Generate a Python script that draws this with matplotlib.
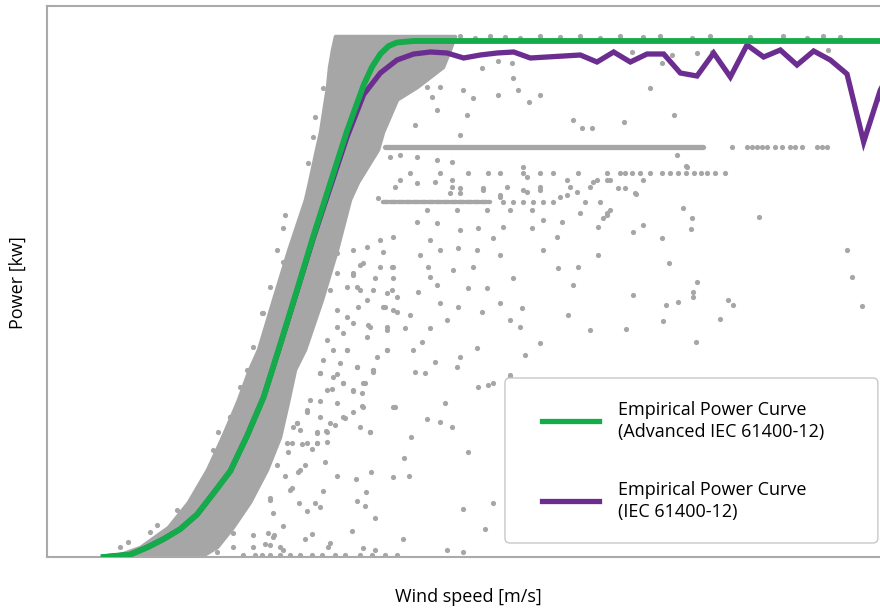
import matplotlib.pyplot as plt
import numpy as np
from matplotlib.patches import FancyBboxPatch
from matplotlib.lines import Line2D

plt.rcParams['font.family'] = ['Open Sans', 'DejaVu Sans']

# empirical power curves, 0.5 m/s bins (wind speed m/s, power kW)
green_ws = [1.7, 2.0, 2.5, 3.0, 3.5, 4.0, 4.5, 5.0, 5.5, 6.0, 6.5, 7.0, 7.5, 8.0, 8.5,
            9.0, 9.5, 9.75, 10.0, 10.25, 10.5, 11.0, 25.5]
green_kw = [0, 4, 10, 38, 72, 112, 170, 256, 344, 484, 640, 852, 1068, 1288, 1496,
            1704, 1888, 1960, 2012, 2044, 2058, 2064, 2064]

purple_ws = [1.7, 2.0, 2.5, 3.0, 3.5, 4.0, 4.5, 5.0, 5.5, 6.0, 6.5, 7.0, 7.5, 8.0, 8.5,
             9.0, 9.5, 10.0, 10.5, 11.0, 11.5, 12.0, 12.5, 13.0, 13.5, 14.0, 14.5, 15.0,
             15.5, 16.0, 16.5, 17.0, 17.5, 18.0, 18.5, 19.0, 19.5, 20.0, 20.5, 21.0, 21.5,
             22.0, 22.5, 23.0, 23.5, 24.0, 24.5, 25.0, 25.5]
purple_kw = [0, 4, 10, 38, 72, 112, 170, 256, 344, 484, 640, 850, 1064, 1280, 1480,
             1680, 1850, 1936, 1988, 2012, 2020, 2016, 1996, 2008, 2016, 2020, 1996, 2000,
             2004, 2008, 1980, 2020, 1980, 2012, 2012, 1936, 1924, 2016, 1920, 2048, 2000,
             2028, 1968, 2024, 1988, 1932, 1660, 1868, 1990]

# dense cloud of 10-min samples: wind speed range at each power level
band_kw = [0, 40, 120, 220, 350, 480, 620, 750, 830, 1030, 1230, 1430, 1500, 1630,
           1700, 1830, 1880, 1960, 2030, 2084]
band_ws_low = [1.95, 2.79, 3.63, 4.23, 4.80, 5.25, 5.70, 6.06, 6.33, 6.78, 7.24, 7.74,
               7.86, 8.07, 8.19, 8.34, 8.40, 8.46, 8.55, 8.64]
band_ws_high = [4.59, 5.10, 5.58, 6.09, 6.60, 6.99, 7.23, 7.44, 7.74, 8.25, 8.70, 9.09,
                9.33, 9.93, 10.08, 10.50, 11.10, 11.88, 12.09, 12.24]

# curtailed operation clusters (power kW, wind speed from/to)
curtail_main = (1640, 10.14, 19.68)
curtail_second = (1420, 10.08, 13.29)

curtail_main_dots = [20.55, 21.0, 21.15, 21.3, 21.45, 21.6, 21.84, 22.05, 22.29,
                     22.44, 22.65, 23.1, 23.25, 23.4]
curtail_second_dots = [13.68, 13.98, 14.28, 14.58, 14.88, 15.18, 16.14, 16.59]
row_1536_dots = [10.89, 11.79, 12.63, 13.23, 13.59, 14.28, 14.79, 15.18, 15.93, 16.8,
                 17.19, 17.34, 17.55, 17.79, 18.09, 18.45, 18.69, 18.93, 19.17, 19.41,
                 19.62, 19.8, 20.04, 20.34]
rated_dots_ws = [12.39, 12.84, 13.29, 13.74, 14.19, 14.79, 15.39, 15.99, 16.59, 17.19,
                 17.88, 18.39, 19.35, 19.89, 21.09, 22.08, 22.8, 23.28, 23.79]
rated_dots_kw = [2084, 2076, 2084, 2080, 2076, 2084, 2080, 2084, 2076, 2084,
                 2080, 2084, 2076, 2084, 2080, 2084, 2076, 2084, 2080]
zero_dots_ws = [5.88, 6.24, 6.45, 6.69, 6.99, 7.29, 7.59, 7.95, 8.25, 8.64, 8.94,
                9.39, 9.75, 10.14, 10.5]

upper_points = [
    (13.05, 1956), (13.53, 1984), (13.95, 1976), (14.79, 1848), (14.46, 1820),
    (13.98, 1916), (14.13, 1868), (12.48, 1868), (12.78, 1836), (13.53, 1848),
    (12.60, 1768), (12.39, 1688), (15.78, 1748), (16.05, 1716), (16.35, 1716),
    (11.55, 1840), (11.70, 1788), (11.04, 1728), (11.79, 1880), (11.40, 1880),
    (8.28, 1876), (8.04, 1760), (7.98, 1680), (7.83, 1576), (8.55, 1980),
    (17.55, 2020), (18.45, 1976), (18.75, 2008), (19.50, 2016), (19.95, 2020),
    (23.43, 2028), (18.09, 1876), (18.81, 1768), (17.31, 1740), (24.96, 1832),
    (18.90, 1608), (19.17, 1564), (17.64, 1456), (17.88, 1508), (17.34, 1476),
    (16.89, 1508), (10.59, 1608), (11.10, 1600), (11.70, 1588), (12.15, 1580),
    (14.28, 1560), (14.40, 1520), (15.60, 1508), (16.50, 1508), (10.29, 1600),
    (10.59, 1508), (11.64, 1500), (12.15, 1508), (12.39, 1476), (13.08, 1468),
    (13.80, 1480), (14.28, 1468), (14.79, 1468), (15.39, 1440), (15.90, 1460),
    (16.29, 1480), (12.39, 1456), (13.59, 1440), (16.38, 1500), (16.80, 1508),
    (10.44, 1480), (11.10, 1496), (12.15, 1480), (13.08, 1476), (14.79, 1480),
    (15.69, 1480), (9.93, 1436), (12.09, 1456), (13.59, 1448), (14.40, 1460),
    (15.60, 1448), (19.20, 1560), (17.13, 1476), (17.67, 1452),
]

mid_points = [
    (11.40, 1388), (12.30, 1388), (13.20, 1388), (13.89, 1388), (14.55, 1388),
    (15.99, 1376), (16.80, 1376), (11.10, 1340), (11.70, 1336), (12.39, 1308),
    (12.93, 1316), (13.68, 1320), (14.55, 1316), (14.88, 1348), (15.45, 1340),
    (16.53, 1320), (11.49, 1268), (13.38, 1276), (15.30, 1280), (11.19, 1208),
    (11.79, 1228), (12.33, 1236), (12.90, 1228), (13.59, 1208), (14.88, 1228),
    (16.53, 1208), (9.39, 1168), (10.35, 1160), (11.43, 1160), (12.18, 1148),
    (12.78, 1160), (15.33, 1156), (15.93, 1160), (9.18, 1128), (9.84, 1116),
    (10.38, 1116), (11.49, 1120), (13.98, 1116), (9.30, 1080), (10.35, 1068),
    (11.13, 1060), (11.70, 1088), (12.63, 1076), (13.20, 1076), (15.78, 1088),
    (9.33, 1000), (10.14, 1000), (10.50, 980), (11.79, 1016), (12.33, 1000),
    (13.05, 980), (13.59, 1016), (14.25, 996), (10.89, 968), (12.00, 948),
    (13.89, 948), (15.63, 968), (9.63, 928), (10.20, 920), (10.74, 916),
    (11.49, 916), (14.19, 920), (16.29, 908), (11.25, 860), (9.00, 828),
    (10.20, 828), (10.98, 828), (12.90, 836), (14.79, 856), (14.34, 808),
    (12.39, 800), (9.30, 760), (9.78, 748), (11.04, 740), (11.34, 736),
    (11.64, 780), (12.30, 760), (13.89, 720), (19.08, 1396), (19.35, 1356),
    (16.89, 1388), (16.68, 1356), (16.80, 1368), (21.36, 1360), (17.88, 1328),
    (19.32, 1312), (17.58, 1300), (18.45, 1276), (24.00, 1228), (18.66, 1176),
    (24.15, 1120), (19.50, 1100), (19.38, 1060), (19.38, 1040), (17.58, 1048),
    (20.43, 1028), (20.58, 1008), (18.93, 1020), (18.57, 1008), (24.45, 1004),
    (18.48, 944), (20.19, 952), (17.37, 912), (19.47, 860), (7.14, 1368),
    (6.90, 1228), (7.08, 1316), (6.45, 976), (6.69, 1080),
]

low_points = [
    (8.19, 736), (8.70, 732), (9.78, 740), (8.88, 696), (9.54, 696), (9.18, 664),
    (9.45, 656), (8.55, 672), (12.93, 680), (13.23, 688), (7.89, 628), (8.19, 624),
    (10.44, 600), (9.45, 604), (11.94, 616), (7.80, 580), (9.18, 580), (8.94, 556),
    (11.40, 552), (11.79, 540), (12.15, 520), (7.50, 536), (7.59, 508), (8.10, 500),
    (8.37, 504), (8.64, 528), (9.69, 500), (7.35, 456), (7.65, 452), (8.10, 456),
    (8.40, 460), (7.95, 432), (7.23, 420), (10.92, 480), (8.34, 380), (10.71, 396),
    (12.63, 420), (7.74, 368), (7.59, 348), (7.14, 324), (8.70, 324), (9.27, 312),
    (9.72, 340), (10.38, 320), (10.86, 324), (7.35, 276), (8.28, 264), (9.57, 260),
    (6.69, 236), (7.56, 216), (8.04, 216), (8.19, 200), (9.30, 224), (9.54, 204),
    (12.48, 192), (13.38, 216), (6.78, 176), (7.80, 184), (9.84, 156), (7.08, 124),
    (9.15, 104), (13.14, 112), (6.18, 88), (6.63, 96), (6.81, 88), (7.74, 72),
    (7.95, 92), (10.68, 72), (6.54, 52), (6.69, 48), (8.49, 56), (8.43, 40),
    (9.48, 36), (9.84, 28), (12.00, 28), (12.48, 20), (7.08, 28), (2.19, 40),
    (2.43, 60), (3.09, 100), (3.30, 128), (3.90, 188), (4.98, 428), (5.13, 500),
    (5.49, 560), (5.58, 96), (6.78, 80), (7.29, 268), (6.69, 228), (6.90, 368),
    (7.20, 456), (7.38, 520), (6.99, 40), (6.18, 40), (5.58, 40), (5.10, 20),
    (7.53, 340), (13.89, 728), (13.38, 696),
]

# samples close to the cloud edges
fringe_points = [
    (8.69, 1215), (9.19, 1228), (9.59, 1241), (9.99, 1268), (10.09, 1221), (10.39, 1281),
    (8.69, 1135), (9.19, 1135), (9.49, 1175), (9.99, 1161), (10.39, 1161), (8.49, 1068),
    (8.99, 1081), (9.39, 1068), (9.79, 1068), (10.19, 1055), (10.49, 1041), (8.69, 988),
    (8.99, 961), (9.59, 1028), (10.09, 1001), (10.39, 988), (8.69, 921), (9.19, 935),
    (9.69, 921), (10.19, 908), (8.39, 868), (8.89, 895), (9.59, 881), (8.59, 828),
    (8.99, 828), (9.89, 801), (10.19, 828), (8.29, 788), (8.79, 775), (9.29, 761),
    (9.79, 748), (8.19, 735), (8.59, 721), (8.89, 695), (9.49, 695), (8.39, 668),
    (9.19, 668), (8.69, 615), (9.49, 601), (10.39, 601), (7.79, 588), (8.19, 561),
    (8.89, 561), (7.49, 535), (8.49, 535), (9.39, 521), (8.09, 495), (8.39, 501),
    (7.79, 455), (8.09, 455), (9.69, 501), (7.09, 1181), (6.49, 975), (6.19, 841),
    (5.99, 748), (5.79, 681), (5.49, 561), (5.29, 481),
]

gray = '#a6a6a6'
green = '#14ab4a'
purple = '#6b2d8f'

fig = plt.figure(figsize=(8.8, 6.1), dpi=100)
ax = fig.add_axes([47 / 880, 53 / 610, 838 / 880, 551 / 610])

# sample cloud
ax.fill_betweenx(band_kw, band_ws_low, band_ws_high, color=gray, lw=2.5,
                 edgecolor=gray, zorder=1)
kw, ws0, ws1 = curtail_main
ax.plot([ws0, ws1], [kw, kw], color=gray, lw=3.8, solid_capstyle='round', zorder=1)
kw, ws0, ws1 = curtail_second
ax.plot([ws0, ws1], [kw, kw], color=gray, lw=3.2, ls=(0, (1.2, 0.5)),
        dash_capstyle='round', zorder=1)

dots_ws, dots_kw = [], []
for pts in (upper_points, mid_points, low_points, fringe_points):
    arr = np.array(pts)
    dots_ws.extend(arr[:, 0])
    dots_kw.extend(arr[:, 1])
dots_ws += curtail_main_dots + curtail_second_dots + row_1536_dots + rated_dots_ws + zero_dots_ws
dots_kw += ([curtail_main[0]] * len(curtail_main_dots) + [curtail_second[0]] * len(curtail_second_dots)
            + [1536] * len(row_1536_dots) + rated_dots_kw + [8] * len(zero_dots_ws))
ax.scatter(dots_ws, dots_kw, s=14, color=gray, linewidths=0, zorder=2)

# power curves
ax.plot(purple_ws, purple_kw, color=purple, lw=3.8, solid_joinstyle='miter', zorder=3)
ax.plot(green_ws, green_kw, color=green, lw=4.2, zorder=4)

ax.set_xlim(0, 25.14)
ax.set_ylim(0, 2204)
ax.set_xticks([])
ax.set_yticks([])
for side in ('left', 'top', 'bottom', 'right'):
    ax.spines[side].set_color('#aaaaaa')
    ax.spines[side].set_linewidth(1.5)

fig.text(468 / 880, 1 - 597 / 610, 'Wind speed [m/s]', ha='center', va='center', fontsize=13)
fig.text(18 / 880, 1 - 283 / 610, 'Power [kw]', ha='center', va='center', rotation=90, fontsize=13)

# legend box
box = FancyBboxPatch((0.5465, 0.0254), 0.445, 0.2995, boxstyle='round,pad=0,rounding_size=0.006',
                     mutation_aspect=838 / 551, transform=ax.transAxes, fc='white',
                     ec='#c8c8c8', lw=1.0, zorder=5)
ax.add_patch(box)
legend_items = [(green, 'Empirical Power Curve\n(Advanced IEC 61400-12)', 0.2468),
                (purple, 'Empirical Power Curve\n(IEC 61400-12)', 0.1016)]
for color, label, y in legend_items:
    ax.add_line(Line2D([0.5907, 0.6587], [y, y], color=color, lw=3.8,
                       transform=ax.transAxes, zorder=6))
    ax.text(0.6814, y, label, transform=ax.transAxes, ha='left', va='center',
            fontsize=13, linespacing=1.3, zorder=6)

fig.savefig('out.png', dpi=100)
